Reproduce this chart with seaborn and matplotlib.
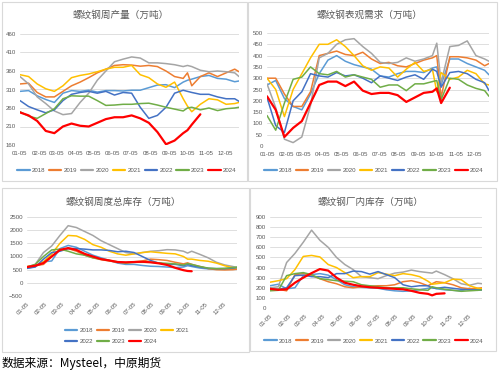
import numpy as np
import pandas as pd
import seaborn as sns
import matplotlib.pyplot as plt
from matplotlib.patches import Rectangle

W, H = 500, 374

years = ['2018', '2019', '2020', '2021', '2022', '2023', '2024']
colors = ['#5B9BD5', '#ED7D31', '#A5A5A5', '#FFC000', '#4472C4', '#70AD47', '#FF0000']

# week index from 01-05 (every other week, plus the holiday week 39)
weeks = [0, 2, 4, 6, 8, 10, 12, 14, 16, 18, 20, 22, 24, 26, 28, 30, 32, 34, 36, 38,
         39, 40, 42, 44, 46, 48, 50, 51]
month_labels = ['01-05', '02-05', '03-05', '04-05', '05-05', '06-05',
                '07-05', '08-05', '09-05', '10-05', '11-05', '12-05']

N = np.nan

# 螺纹钢周产量
production = {
    '2018': [305, 307, 293, 283, 275, 300, 307, 305, 308, 303, 307, 307, 306, 308, 308, 315, 322, 323, 315, 330, 335, 338, 345, 348, 340, 338, 331, 333],
    '2019': [325, 327, 302, 290, 290, 305, 320, 330, 342, 355, 365, 375, 377, 376, 373, 375, 372, 360, 345, 340, 355, 320, 345, 355, 345, 355, 365, 358],
    '2020': [345, 325, 290, 272, 252, 242, 245, 275, 300, 335, 360, 385, 392, 398, 395, 382, 382, 380, 377, 372, 375, 372, 362, 358, 360, 358, 355, 345],
    '2021': [350, 345, 325, 312, 305, 320, 342, 348, 352, 358, 365, 370, 370, 375, 350, 342, 325, 316, 330, 285, 265, 250, 270, 285, 282, 270, 272, 275],
    '2022': [280, 264, 255, 247, 255, 280, 297, 302, 305, 300, 305, 295, 302, 300, 262, 232, 240, 262, 300, 308, 305, 302, 297, 297, 290, 285, 285, 278],
    '2023': [250, 238, 232, 245, 258, 285, 293, 292, 292, 280, 267, 268, 270, 270, 272, 273, 268, 262, 257, 252, 260, 262, 255, 260, 253, 258, 260, 262],
    '2024': [248, 240, 225, 198, 192, 210, 218, 212, 210, 220, 230, 235, 235, 240, 232, 220, 195, 162, 172, 192, 200, 215, 243, N, N, N, N, N],
}

# 螺纹钢表观需求
demand = {
    '2018': [270, 290, 210, 175, 160, 230, 320, 380, 400, 375, 360, 350, 340, 310, 305, 320, 330, 330, 325, 345, 350, 270, 385, 385, 365, 350, 335, 315],
    '2019': [300, 300, 230, 175, 175, 240, 400, 410, 420, 405, 400, 415, 385, 365, 370, 355, 350, 365, 380, 390, 400, 215, 395, 395, 390, 380, 355, 365],
    '2020': [275, 170, 30, 15, 40, 180, 390, 410, 450, 470, 475, 440, 410, 370, 365, 370, 390, 375, 385, 400, 455, 280, 440, 445, 465, 400, 385, 375],
    '2021': [300, 250, 130, 250, 320, 390, 450, 450, 470, 440, 400, 355, 335, 350, 345, 305, 340, 370, 330, 340, 240, 325, 295, 305, 335, 320, 275, 270],
    '2022': [215, 90, 60, 200, 240, 320, 310, 305, 325, 310, 315, 300, 280, 310, 300, 290, 305, 315, 295, 340, 330, 260, 325, 330, 320, 295, 280, 245],
    '2023': [135, 70, 190, 295, 305, 350, 320, 315, 330, 305, 315, 305, 295, 260, 270, 270, 245, 275, 275, 285, 290, 205, 300, 295, 270, 255, 245, 220],
    '2024': [220, 160, 40, 80, 110, 190, 270, 285, 285, 265, 285, 245, 230, 235, 235, 225, 195, 215, 235, 240, 255, 190, 258, N, N, N, N, N],
}

# 螺纹钢周度总库存
total_stock = {
    '2018': [550, 620, 800, 830, 1300, 1420, 1350, 1200, 1050, 950, 850, 750, 700, 700, 660, 630, 620, 600, 580, 600, 650, 620, 560, 530, 520, 520, 530, 540],
    '2019': [600, 650, 700, 1000, 1250, 1300, 1200, 1050, 950, 880, 830, 780, 760, 800, 830, 900, 880, 850, 780, 720, 760, 700, 620, 540, 500, 490, 500, 520],
    '2020': [600, 700, 1150, 1400, 1800, 2170, 2100, 1950, 1800, 1600, 1450, 1300, 1150, 1100, 1150, 1200, 1220, 1260, 1250, 1200, 1130, 1200, 1080, 950, 780, 680, 620, 580],
    '2021': [620, 650, 800, 1100, 1500, 1800, 1780, 1650, 1450, 1350, 1200, 1100, 1050, 1100, 1150, 1180, 1150, 1120, 1100, 1000, 900, 900, 850, 820, 750, 650, 570, 560],
    '2022': [550, 600, 900, 1150, 1200, 1300, 1300, 1280, 1250, 1250, 1230, 1180, 1200, 1150, 1000, 850, 750, 700, 700, 650, 700, 650, 600, 550, 540, 540, 560, 580],
    '2023': [600, 700, 1000, 1250, 1280, 1200, 1100, 1050, 950, 900, 850, 800, 750, 780, 780, 780, 760, 740, 720, 680, 730, 700, 620, 560, 540, 550, 580, 600],
    '2024': [600, 650, 750, 1000, 1250, 1320, 1250, 1100, 1000, 900, 850, 790, 780, 790, 800, 780, 740, 680, 570, 480, 450, 440, N, N, N, N, N, N],
}

# 螺纹钢厂内库存
mill_stock = {
    '2018': [220, 235, 190, 200, 320, 330, 340, 325, 280, 230, 210, 205, 200, 195, 180, 170, 165, 170, 180, 195, 205, 190, 180, 175, 170, 195, 175, 180],
    '2019': [180, 185, 170, 330, 340, 320, 290, 260, 240, 210, 200, 210, 215, 220, 220, 230, 260, 270, 250, 220, 240, 260, 250, 230, 200, 190, 195, 200],
    '2020': [200, 210, 450, 540, 650, 770, 670, 600, 500, 430, 380, 310, 300, 290, 320, 345, 355, 375, 360, 350, 345, 365, 330, 290, 240, 225, 245, 240],
    '2021': [255, 270, 290, 380, 510, 520, 505, 430, 400, 350, 300, 310, 310, 350, 335, 320, 340, 330, 310, 265, 235, 240, 250, 285, 280, 220, 195, 190],
    '2022': [190, 185, 200, 320, 325, 310, 310, 300, 340, 340, 365, 360, 335, 360, 330, 300, 230, 210, 220, 220, 200, 195, 205, 195, 185, 180, 180, 180],
    '2023': [170, 175, 320, 340, 350, 330, 290, 280, 270, 265, 260, 230, 220, 210, 200, 200, 200, 190, 180, 175, 210, 200, 185, 175, 165, 170, 175, 180],
    '2024': [190, 180, 185, 250, 300, 345, 385, 370, 300, 250, 230, 215, 205, 200, 195, 190, 185, 170, 150, 140, 125, 140, 145, N, N, N, N, N],
}

# tick positions: weeks elapsed since 01-05 for the 5th of each month
month_pos = (pd.to_datetime([f'2023-{m}' for m in month_labels]).dayofyear - 5) / 7.0

FONT = ['Noto Sans CJK SC', 'DejaVu Sans']
sns.set_theme(style='white')
plt.rcParams['font.family'] = ['Liberation Sans', 'Noto Sans CJK SC']

GRAY_TXT = '#595959'
GRID = '#D9D9D9'

fig = plt.figure(figsize=(W / 100, H / 100), dpi=100)
fig.patch.set_facecolor('white')


def px_axes(x0, y0, x1, y1):
    return fig.add_axes([x0 / W, 1 - y1 / H, (x1 - x0) / W, (y1 - y0) / H])


def px_box(x0, y0, x1, y1):
    fig.patches.append(Rectangle((x0 / W, 1 - y1 / H), (x1 - x0) / W, (y1 - y0) / H,
                                 transform=fig.transFigure, fill=False,
                                 edgecolor=GRID, lw=0.8))


def draw_panel(ax, data, ylim, ystep, title, title_xy, rotate, leg_xy, leg_ncol):
    frames = []
    for y in years:
        frames.append(pd.DataFrame({'week': weeks, 'value': data[y], 'year': y}))
    df = pd.concat(frames).dropna()
    sns.lineplot(data=df, x='week', y='value', hue='year', hue_order=years,
                 palette=dict(zip(years, colors)), linewidth=1.1, ax=ax, legend=False)
    for line, y in zip(ax.lines, years):
        if y == '2024':
            line.set_linewidth(1.6)
            line.set_zorder(5)
    ax.set_xlim(0, 51)
    ax.set_ylim(*ylim)
    ax.set_yticks(np.arange(ylim[0], ylim[1] + 1, ystep))
    ax.set_xticks(month_pos)
    if rotate:
        ax.set_xticklabels(month_labels, rotation=45, ha='right', rotation_mode='anchor')
    else:
        ax.set_xticklabels(month_labels)
    ax.tick_params(axis='both', length=0, labelsize=4.4, colors=GRAY_TXT)
    ax.tick_params(axis='y', pad=3)
    ax.tick_params(axis='x', pad=4)
    ax.grid(axis='y', color=GRID, lw=0.6)
    ax.grid(axis='x', visible=False)
    for s in ax.spines.values():
        s.set_visible(False)
    ax.set_xlabel('')
    ax.set_ylabel('')
    fig.text(title_xy[0] / W, 1 - title_xy[1] / H, title, family=FONT,
             fontsize=6.9, color=GRAY_TXT, ha='center', va='center')

    handles = [plt.Line2D([], [], color=c, lw=1.6) for c in colors]
    if leg_ncol == 4:
        order = [0, 4, 1, 5, 2, 6, 3]
    else:
        order = list(range(7))
    fig.legend([handles[i] for i in order], [years[i] for i in order],
               loc='center', bbox_to_anchor=(leg_xy[0] / W, 1 - leg_xy[1] / H),
               ncol=leg_ncol, frameon=False, fontsize=4.4, handlelength=2.0,
               handletextpad=0.4, columnspacing=0.6, labelcolor=GRAY_TXT,
               borderaxespad=0, borderpad=0, labelspacing=0.9)


# panel borders
px_box(2, 2, 247, 181)
px_box(248, 2, 497, 181)
px_box(2, 188, 249, 352)
px_box(250, 188, 496, 351)

ax1 = px_axes(20, 34, 239, 145)
draw_panel(ax1, production, (160, 460), 50, '螺纹钢周产量（万吨）', (121, 15), False, (127, 170), 7)

ax2 = px_axes(267, 33, 489, 146)
draw_panel(ax2, demand, (0, 500), 50, '螺纹钢表观需求（万吨）', (370, 15), False, (374, 170), 7)

ax3 = px_axes(27, 217, 237, 296)
draw_panel(ax3, total_stock, (-500, 2500), 500, '螺纹钢周度总库存（万吨）', (123, 202), True, (127, 336), 4)

ax4 = px_axes(270, 217, 482, 308)
draw_panel(ax4, mill_stock, (0, 900), 100, '螺纹钢厂内库存（万吨）', (371, 202), True, (374, 341), 7)

fig.text(2 / W, 1 - 363 / H, '数据来源：Mysteel，中原期货', family=FONT,
         fontsize=8.5, color='black', ha='left', va='center')

fig.savefig('out.png', dpi=100, facecolor='white')
